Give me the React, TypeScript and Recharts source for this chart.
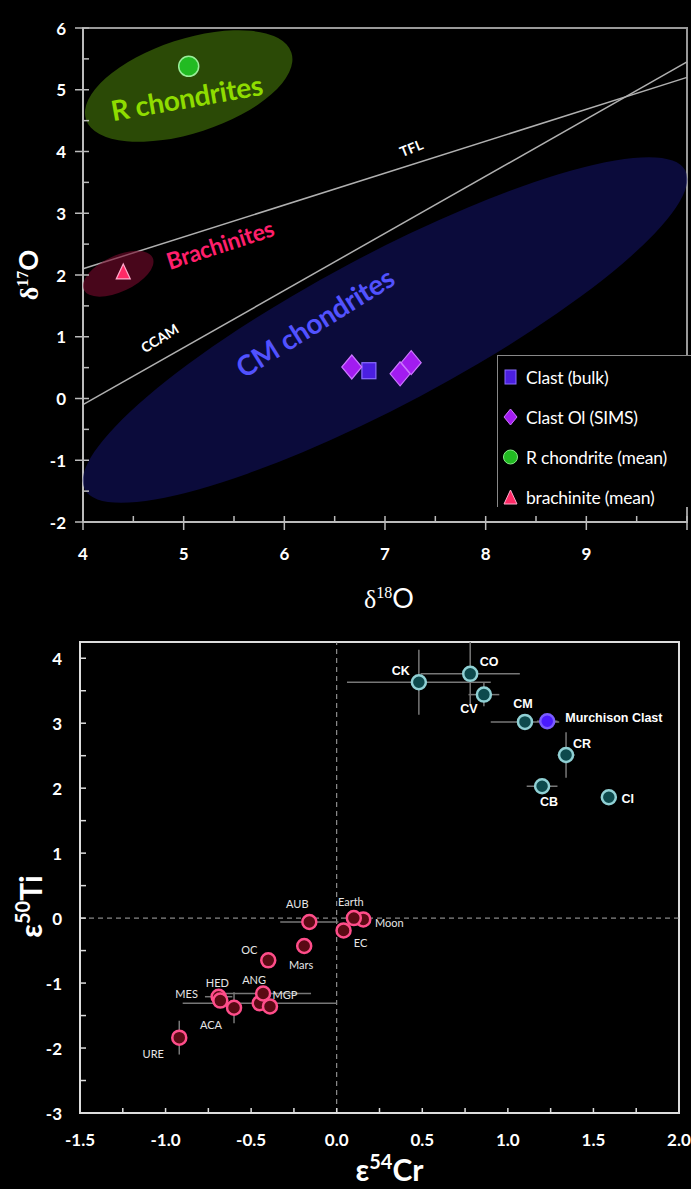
import {
  ScatterChart,
  Scatter,
  XAxis,
  YAxis,
  ReferenceLine,
  ReferenceDot,
  ReferenceArea,
  Legend,
  ErrorBar,
  Label,
} from "recharts";

const FONT = "Lato, 'Open Sans', sans-serif";
const ARIAL = "'Liberation Sans', Arial, sans-serif";

// ---------- top panel: oxygen isotopes ----------
const clastBulk = [{ d18O: 6.84, d17O: 0.45 }];
const clastOlSims = [
  { d18O: 6.67, d17O: 0.51 },
  { d18O: 7.15, d17O: 0.4 },
  { d18O: 7.26, d17O: 0.58 },
];
const rChondriteMean = [{ d18O: 5.05, d17O: 5.38 }];
const brachiniteMean = [{ d18O: 4.4, d17O: 2.05 }];

const tflLine = [
  { x: 4, y: 2.1 },
  { x: 10, y: 5.2 },
];
const ccamLine = [
  { x: 4, y: -0.1 },
  { x: 10, y: 5.45 },
];

const fieldNames = ["R chondrites", "Brachinites", "CM chondrites"];
const fieldD18O = [5.05, 4.35, 7.0];
const fieldD17O = [5.06, 2.02, 1.11];
const fieldLabelD18O = [5.03, 5.36, 6.3];
const fieldLabelD17O = [4.88, 2.5, 1.24];

const lineNames = ["TFL", "CCAM"];
const lineLabelD18O = [7.26, 4.76];
const lineLabelD17O = [4.06, 0.98];

const d18OTicks = [4, 4.5, 5, 5.5, 6, 6.5, 7, 7.5, 8, 8.5, 9, 9.5, 10];
const d17OTicks = [-2, -1.5, -1, -0.5, 0, 0.5, 1, 1.5, 2, 2.5, 3, 3.5, 4, 4.5, 5, 5.5, 6];

// ---------- bottom panel: Cr-Ti isotopes ----------
const ncNames = ["AUB", "Moon", "Earth", "EC", "Mars", "OC", "", "ANG", "MGP", "MES", "HED", "ACA", "URE"];
const ncCr = [-0.16, 0.155, 0.1, 0.04, -0.19, -0.4, -0.45, -0.43, -0.39, -0.69, -0.68, -0.6, -0.92];
const ncTi = [-0.06, -0.02, 0.0, -0.19, -0.43, -0.65, -1.31, -1.16, -1.36, -1.21, -1.27, -1.38, -1.84];
const ncCrErr = [0.17, 0, 0, 0, 0, 0, 0.45, 0.28, 0, 0.08, 0, 0, 0];
const ncTiErr = [0, 0, 0, 0, 0, 0, 0, 0, 0, 0, 0, 0.24, 0.26];

const ccNames = ["CK", "CO", "CV", "CM", "CR", "CB", "CI"];
const ccCr = [0.48, 0.78, 0.86, 1.1, 1.34, 1.2, 1.59];
const ccTi = [3.63, 3.76, 3.44, 3.02, 2.51, 2.03, 1.86];
const ccCrErr = [0.42, 0.29, 0.09, 0.2, 0.05, 0.09, 0];
const ccTiErr = [0.5, 0.49, 0.18, 0, 0.35, 0, 0];

const murchisonCr = [1.23];
const murchisonTi = [3.03];
const murchisonCrErr = [0.06];

const crTicks = [-1.5, -1.25, -1, -0.75, -0.5, -0.25, 0, 0.25, 0.5, 0.75, 1, 1.25, 1.5, 1.75, 2];
const tiTicks = [-3, -2.5, -2, -1.5, -1, -0.5, 0, 0.5, 1, 1.5, 2, 2.5, 3, 3.5, 4];

const ncData = ncNames.map((name, i) => ({ name, cr: ncCr[i], ti: ncTi[i], crErr: ncCrErr[i], tiErr: ncTiErr[i] }));
const ccData = ccNames.map((name, i) => ({ name, cr: ccCr[i], ti: ccTi[i], crErr: ccCrErr[i], tiErr: ccTiErr[i] }));
const murchisonData = murchisonCr.map((cr, i) => ({ name: "Murchison Clast", cr, ti: murchisonTi[i], crErr: murchisonCrErr[i], tiErr: 0 }));

// label offsets in px relative to the marker
const ccLabelPos: Record<string, [number, number]> = {
  CK: [-18, -11], CO: [19, -12], CV: [-15, 14], CM: [-2, -18], CR: [16, -11], CB: [7, 16], CI: [19, 2],
};
const ncLabelPos: Record<string, [number, number]> = {
  AUB: [-12, -19], Earth: [-3, -17], Moon: [26, 3], EC: [17, 12], Mars: [-3, 18], OC: [-19, -11],
  ANG: [-9, -14], MGP: [15, -12], HED: [-3, -18], MES: [-32, -3], ACA: [-23, 17], URE: [-26, 16],
};

const fieldStyles = [
  { fill: "rgba(70,120,10,0.62)", rx: 108, ry: 47, angle: -18, color: "#8fdc00", size: 28, textAngle: -10 },
  { fill: "rgba(120,10,45,0.6)", rx: 38, ry: 18, angle: -25, color: "#ff1f6b", size: 23, textAngle: -18 },
  { fill: "rgba(18,18,95,0.62)", rx: 340, ry: 75, angle: -28, color: "#5252ff", size: 28, textAngle: -32 },
];
const lineStyles = [{ angle: -22 }, { angle: -32 }];

function OxXTick({ x, y, payload }: any) {
  const v = payload.value;
  const major = Number.isInteger(v);
  return (
    <g>
      <line x1={x} x2={x} y1={y - 6} y2={major ? y + 8 : y} stroke="#bbb" strokeWidth={1.5} />
      {major && v < 10 && (
        <text x={x} y={y + 31} textAnchor="middle" dominantBaseline="central" fill="#fff" fontSize={17} fontWeight={700} fontFamily={FONT}>
          {v}
        </text>
      )}
    </g>
  );
}

function OxYTick({ x, y, payload }: any) {
  const v = payload.value;
  const major = Number.isInteger(v);
  return (
    <g>
      <line x1={major ? x - 8 : x} x2={x + 6} y1={y} y2={y} stroke="#bbb" strokeWidth={1.5} />
      {major && (
        <text x={x - 17} y={y} textAnchor="end" dominantBaseline="central" fill="#fff" fontSize={17} fontWeight={700} fontFamily={FONT}>
          {v}
        </text>
      )}
    </g>
  );
}

function CrTick({ x, y, payload }: any) {
  const v = payload.value;
  const labelled = Math.abs(v * 2 - Math.round(v * 2)) < 1e-6;
  return (
    <g>
      <line x1={x} x2={x} y1={y - 5} y2={y} stroke="#ddd" strokeWidth={1.5} />
      {labelled && (
        <text x={x} y={y + 26} textAnchor="middle" dominantBaseline="central" fill="#fff" fontSize={17} fontWeight={700} fontFamily={FONT}>
          {v.toFixed(1)}
        </text>
      )}
    </g>
  );
}

function TiTick({ x, y, payload }: any) {
  const v = payload.value;
  const major = Number.isInteger(v);
  return (
    <g>
      <line x1={x} x2={x + 6} y1={y} y2={y} stroke="#ddd" strokeWidth={1.5} />
      {major && (
        <text x={x - 18} y={y} textAnchor="end" dominantBaseline="central" fill="#fff" fontSize={17} fontWeight={700} fontFamily={FONT}>
          {v}
        </text>
      )}
    </g>
  );
}

function legendMarker(type: string, color: string) {
  if (type === "square") return <rect x={4} y={3} width={11} height={14} fill={color} stroke="#8a6cff" strokeWidth={1} />;
  if (type === "diamond") return <polygon points="9.5,2 16,10 9.5,18 3,10" fill={color} stroke="#cc77ff" strokeWidth={1} />;
  if (type === "circle") return <circle cx={9.5} cy={10} r={7} fill={color} stroke="#88ee88" strokeWidth={1} />;
  return <polygon points="9.5,3 16,17 3,17" fill={color} stroke="#ffaacc" strokeWidth={1} />;
}

function OxLegend({ payload }: any) {
  return (
    <div
      style={{
        width: 194,
        height: 152,
        boxSizing: "border-box",
        borderTop: "1.5px solid #888",
        borderLeft: "1.5px solid #888",
        background: "#000",
        paddingTop: 1,
        paddingLeft: 3,
        fontFamily: FONT,
      }}
    >
      {(payload || []).map((e: any) => (
        <div key={e.value} style={{ display: "flex", alignItems: "center", height: 40 }}>
          <svg width={19} height={20}>{legendMarker(e.type, e.color)}</svg>
          <span style={{ color: "#fff", fontSize: 17.5, marginLeft: 6, whiteSpace: "nowrap", letterSpacing: -0.2 }}>{e.value}</span>
        </div>
      ))}
    </div>
  );
}

const dot = (fill: string, stroke: string, labels: Record<string, [number, number]>, small: boolean) => (props: any) => {
  const { cx, cy, payload } = props;
  const pos = labels[payload.name];
  return (
    <g>
      <circle cx={cx} cy={cy} r={7} fill={fill} stroke={stroke} strokeWidth={2.5} />
      {pos && (
        <text
          x={cx + pos[0]}
          y={cy + pos[1]}
          textAnchor="middle"
          dominantBaseline="central"
          fill={small ? "#e6e6e6" : "#fff"}
          fontSize={small ? 11 : 12.5}
          fontWeight={small ? 400 : 700}
          fontFamily={small ? FONT : ARIAL}
        >
          {payload.name}
        </text>
      )}
    </g>
  );
};

function OxygenChart() {
  return (
    <ScatterChart width={691} height={620} margin={{ top: 28, right: 4, bottom: 0, left: 0 }}>
      <XAxis
        type="number"
        dataKey="d18O"
        domain={[4, 10]}
        ticks={d18OTicks}
        interval={0}
        allowDataOverflow
        tickSize={0}
        tickMargin={0}
        tickLine={false}
        axisLine={{ stroke: "#bbb", strokeWidth: 2 }}
        tick={(p: any) => <OxXTick {...p} />}
        height={98}
      >
        <Label
          content={({ viewBox }: any) => (
            <text x={viewBox.x + viewBox.width / 2 + 4} y={viewBox.y + 86} textAnchor="middle" fill="#fff" fontSize={26} fontFamily="'Liberation Serif', serif">
              δ<tspan dy={-10} fontSize={16}>18</tspan>
              <tspan dy={10} fontFamily={FONT} fontSize={27}>O</tspan>
            </text>
          )}
        />
      </XAxis>
      <YAxis
        type="number"
        dataKey="d17O"
        domain={[-2, 6]}
        ticks={d17OTicks}
        interval={0}
        allowDataOverflow
        tickSize={0}
        tickMargin={0}
        tickLine={false}
        axisLine={{ stroke: "#bbb", strokeWidth: 2 }}
        tick={(p: any) => <OxYTick {...p} />}
        width={83}
      >
        <Label
          content={({ viewBox }: any) => {
            const cx = viewBox.x + 38;
            const cy = viewBox.y + viewBox.height / 2;
            return (
              <text x={cx} y={cy} transform={`rotate(-90 ${cx} ${cy})`} textAnchor="middle" fill="#fff" fontSize={26} fontWeight={700} fontFamily="'Liberation Serif', serif">
                δ<tspan dy={-10} fontSize={16}>17</tspan>
                <tspan dy={10} fontFamily={FONT}>O</tspan>
              </text>
            );
          }}
        />
      </YAxis>

      {fieldNames.map((name, i) => (
        <ReferenceDot
          key={`field-${name}`}
          x={fieldD18O[i]}
          y={fieldD17O[i]}
          r={1}
          ifOverflow="visible"
          shape={(p: any) => (
            <ellipse
              cx={p.cx}
              cy={p.cy}
              rx={fieldStyles[i].rx}
              ry={fieldStyles[i].ry}
              transform={`rotate(${fieldStyles[i].angle} ${p.cx} ${p.cy})`}
              fill={fieldStyles[i].fill}
            />
          )}
        />
      ))}

      <ReferenceArea x1={4} x2={10} y1={-2} y2={6} fill="none" stroke="#999" strokeWidth={2} ifOverflow="visible" />
      <ReferenceLine segment={tflLine} stroke="#b0b0b0" strokeWidth={1.5} />
      <ReferenceLine segment={ccamLine} stroke="#b0b0b0" strokeWidth={1.5} />

      {lineNames.map((name, i) => (
        <ReferenceDot
          key={`line-${name}`}
          x={lineLabelD18O[i]}
          y={lineLabelD17O[i]}
          r={1}
          shape={(p: any) => (
            <text
              x={p.cx}
              y={p.cy}
              transform={`rotate(${lineStyles[i].angle} ${p.cx} ${p.cy})`}
              textAnchor="middle"
              dominantBaseline="central"
              fill="#fff"
              fontSize={14}
              fontWeight={700}
              fontFamily={FONT}
            >
              {name}
            </text>
          )}
        />
      ))}
      {fieldNames.map((name, i) => (
        <ReferenceDot
          key={`flabel-${name}`}
          x={fieldLabelD18O[i]}
          y={fieldLabelD17O[i]}
          r={1}
          shape={(p: any) => (
            <text
              x={p.cx}
              y={p.cy}
              transform={`rotate(${fieldStyles[i].textAngle} ${p.cx} ${p.cy})`}
              textAnchor="middle"
              dominantBaseline="central"
              fill={fieldStyles[i].color}
              fontSize={fieldStyles[i].size}
              fontWeight={700}
              fontFamily={FONT}
              letterSpacing={-0.3}
            >
              {name}
            </text>
          )}
        />
      ))}

      <Scatter
        name="Clast (bulk)"
        data={clastBulk}
        fill="#4b1fe0"
        legendType="square"
        isAnimationActive={false}
        shape={(p: any) => <rect x={p.cx - 7} y={p.cy - 8} width={14} height={16} fill="#4b1fe0" stroke="#8a6cff" strokeWidth={1.2} />}
      />
      <Scatter
        name="Clast Ol (SIMS)"
        data={clastOlSims}
        fill="#a21cf0"
        legendType="diamond"
        isAnimationActive={false}
        shape={(p: any) => (
          <polygon
            points={`${p.cx},${p.cy - 12} ${p.cx + 10},${p.cy} ${p.cx},${p.cy + 12} ${p.cx - 10},${p.cy}`}
            fill="#a21cf0"
            stroke="#cc77ff"
            strokeWidth={1.2}
          />
        )}
      />
      <Scatter
        name="R chondrite (mean)"
        data={rChondriteMean}
        fill="#22bb22"
        legendType="circle"
        isAnimationActive={false}
        shape={(p: any) => <circle cx={p.cx} cy={p.cy} r={10} fill="#22bb22" stroke="#99ee99" strokeWidth={1.5} />}
      />
      <Scatter
        name="brachinite (mean)"
        data={brachiniteMean}
        fill="#ff2a66"
        legendType="triangle"
        isAnimationActive={false}
        shape={(p: any) => (
          <polygon points={`${p.cx},${p.cy - 8} ${p.cx + 7},${p.cy + 7} ${p.cx - 7},${p.cy + 7}`} fill="#ff2a66" stroke="#ffaacc" strokeWidth={1.2} />
        )}
      />
      <Legend layout="vertical" align="center" verticalAlign="middle" content={OxLegend} wrapperStyle={{ left: 497, top: 355, width: 194 }} />
    </ScatterChart>
  );
}

function CrTiChart() {
  return (
    <ScatterChart width={691} height={569} margin={{ top: 22, right: 12, bottom: 0, left: 0 }}>
      <XAxis
        type="number"
        dataKey="cr"
        domain={[-1.5, 2]}
        ticks={crTicks}
        interval={0}
        allowDataOverflow
        tickSize={0}
        tickMargin={0}
        tickLine={false}
        axisLine={{ stroke: "#ddd", strokeWidth: 2 }}
        tick={(p: any) => <CrTick {...p} />}
        height={76}
      >
        <Label
          content={({ viewBox }: any) => (
            <text x={viewBox.x + viewBox.width / 2 + 10} y={viewBox.y + 68} textAnchor="middle" fill="#fff" fontSize={30} fontWeight={700} fontFamily={FONT}>
              ε<tspan dy={-12} fontSize={20}>54</tspan>
              <tspan dy={12}>Cr</tspan>
            </text>
          )}
        />
      </XAxis>
      <YAxis
        type="number"
        dataKey="ti"
        domain={[-3, 4.25]}
        ticks={tiTicks}
        interval={0}
        allowDataOverflow
        tickSize={0}
        tickMargin={0}
        tickLine={false}
        axisLine={{ stroke: "#ddd", strokeWidth: 2 }}
        tick={(p: any) => <TiTick {...p} />}
        width={80}
      >
        <Label
          content={({ viewBox }: any) => {
            const cx = viewBox.x + 42;
            const cy = viewBox.y + viewBox.height / 2 + 29;
            return (
              <text x={cx} y={cy} transform={`rotate(-90 ${cx} ${cy})`} textAnchor="middle" fill="#fff" fontSize={30} fontWeight={700} fontFamily={FONT}>
                ε<tspan dy={-12} fontSize={20}>50</tspan>
                <tspan dy={12}>Ti</tspan>
              </text>
            );
          }}
        />
      </YAxis>

      <ReferenceArea x1={-1.5} x2={2} y1={-3} y2={4.25} fill="none" stroke="#ddd" strokeWidth={2} ifOverflow="visible" />
      <ReferenceLine x={0} stroke="#aaa" strokeWidth={1} strokeDasharray="5 4" />
      <ReferenceLine y={0} stroke="#aaa" strokeWidth={1} strokeDasharray="5 4" />

      <Scatter name="Non-carbonaceous" data={ncData} fill="#5a0a14" isAnimationActive={false} shape={dot("#5a0a14", "#ff4d8a", ncLabelPos, true)}>
        <ErrorBar dataKey="crErr" direction="x" width={0} stroke="#777" strokeWidth={1.5} />
        <ErrorBar dataKey="tiErr" direction="y" width={0} stroke="#777" strokeWidth={1.5} />
      </Scatter>
      <Scatter name="Carbonaceous" data={ccData} fill="#0d4a4d" isAnimationActive={false} shape={dot("#0d4a4d", "#8fd0d4", ccLabelPos, false)}>
        <ErrorBar dataKey="crErr" direction="x" width={0} stroke="#777" strokeWidth={1.5} />
        <ErrorBar dataKey="tiErr" direction="y" width={0} stroke="#777" strokeWidth={1.5} />
      </Scatter>
      <Scatter
        name="Murchison Clast"
        data={murchisonData}
        fill="#4a1aff"
        isAnimationActive={false}
        shape={(p: any) => (
          <g>
            <circle cx={p.cx} cy={p.cy} r={7} fill="#4a1aff" stroke="#7a5cff" strokeWidth={2.5} />
            <text x={p.cx + 18} y={p.cy - 3} dominantBaseline="central" fill="#fff" fontSize={12.5} fontWeight={700} fontFamily={ARIAL}>
              {p.payload.name}
            </text>
          </g>
        )}
      >
        <ErrorBar dataKey="crErr" direction="x" width={0} stroke="#777" strokeWidth={1.5} />
      </Scatter>
    </ScatterChart>
  );
}

export default function App() {
  return (
    <div style={{ width: 691, height: 1189, background: "#000", position: "relative" }}>
      <style>{`body{margin:0;background:#000}`}</style>
      <OxygenChart />
      <CrTiChart />
    </div>
  );
}
